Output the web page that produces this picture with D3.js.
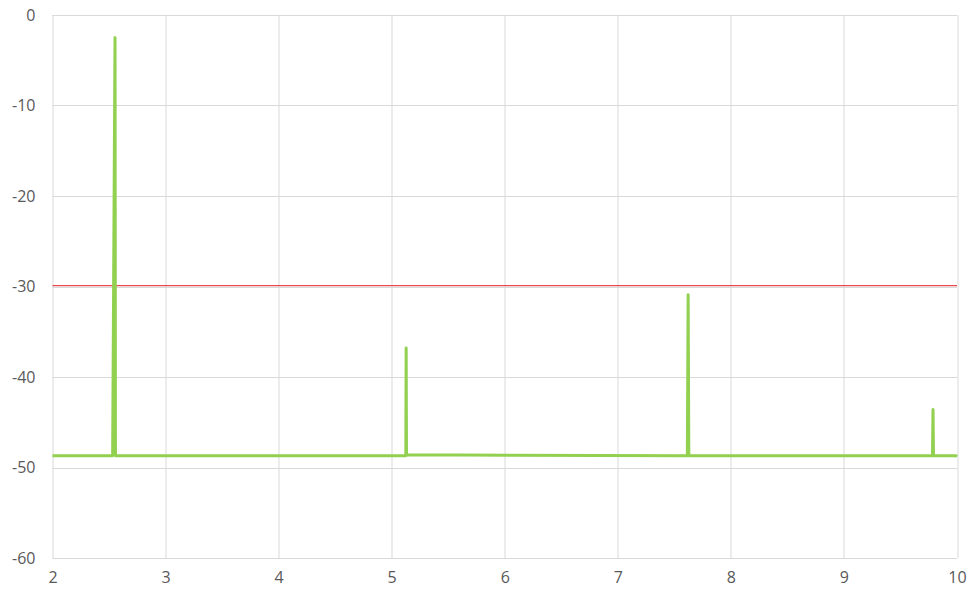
<!DOCTYPE html>
<html>
<head>
<meta charset="utf-8">
<script src="https://cdn.jsdelivr.net/npm/d3@7"></script>
<style>
  body { margin: 0; background: #fff; }
  svg { display: block; }
  .tick text { font-family: "Open Sans", "Noto Sans", sans-serif; font-size: 16px; fill: #595959; }
</style>
</head>
<body>
<div id="chart"></div>
<script>
// spectrum trace (x in units, y in dB)
const traceX = [2, 2.532, 2.553, 2.557, 5.125, 5.128, 5.131, 5.14, 7.615, 7.622, 7.628, 9.783, 9.788, 9.792, 9.99, 10];
const traceY = [-48.7, -48.7, -2.5, -48.7, -48.7, -36.8, -48.65, -48.6, -48.7, -30.9, -48.7, -48.7, -43.6, -48.7, -48.7, -48.8];
// limit line
const limitY = -29.9;
const xTicks = [2, 3, 4, 5, 6, 7, 8, 9, 10];
const yTicks = [0, -10, -20, -30, -40, -50, -60];

const W = 971, H = 590;
const margin = { top: 15, right: 14, bottom: 32, left: 52.5 };
const width = W - margin.left - margin.right;
const height = H - margin.top - margin.bottom;

const svg = d3.select("#chart").append("svg")
    .attr("width", W)
    .attr("height", H);

const g = svg.append("g")
    .attr("transform", "translate(" + margin.left + "," + margin.top + ")");

const x = d3.scaleLinear().domain([2, 10]).range([0, width]);
const y = d3.scaleLinear().domain([-60, 0]).range([height, 0]);

// grid
g.append("g")
    .selectAll("line.h")
    .data(yTicks)
    .enter().append("line")
    .attr("x1", 0).attr("x2", width)
    .attr("y1", d => Math.round(y(d)) + 0.5).attr("y2", d => Math.round(y(d)) + 0.5)
    .attr("stroke", "#d9d9d9").attr("stroke-width", 1);

g.append("g")
    .selectAll("line.v")
    .data(xTicks)
    .enter().append("line")
    .attr("y1", 0).attr("y2", height)
    .attr("x1", d => Math.round(x(d)) + 0.5).attr("x2", d => Math.round(x(d)) + 0.5)
    .attr("stroke", "#d9d9d9").attr("stroke-width", 1);

// axes (labels only), plain hyphen minus like the original
const yAxis = g.append("g")
    .call(d3.axisLeft(y).tickValues(yTicks).tickSize(0).tickPadding(17).tickFormat(d => String(d)));
yAxis.select(".domain").remove();

const xAxis = g.append("g")
    .attr("transform", "translate(0," + height + ")")
    .call(d3.axisBottom(x).tickValues(xTicks).tickSize(0).tickPadding(14).tickFormat(d => String(d)));
xAxis.select(".domain").remove();

// limit line
g.append("line")
    .attr("x1", x(2)).attr("x2", x(10))
    .attr("y1", y(limitY)).attr("y2", y(limitY))
    .attr("stroke", "#e8474c").attr("stroke-width", 1.3);

// trace
const data = traceX.map((d, i) => ({ x: d, y: traceY[i] }));
g.append("path")
    .datum(data)
    .attr("fill", "none")
    .attr("stroke", "#92d050")
    .attr("stroke-width", 3)
    .attr("stroke-linejoin", "round")
    .attr("d", d3.line().x(d => x(d.x)).y(d => y(d.y)));
</script>
</body>
</html>
